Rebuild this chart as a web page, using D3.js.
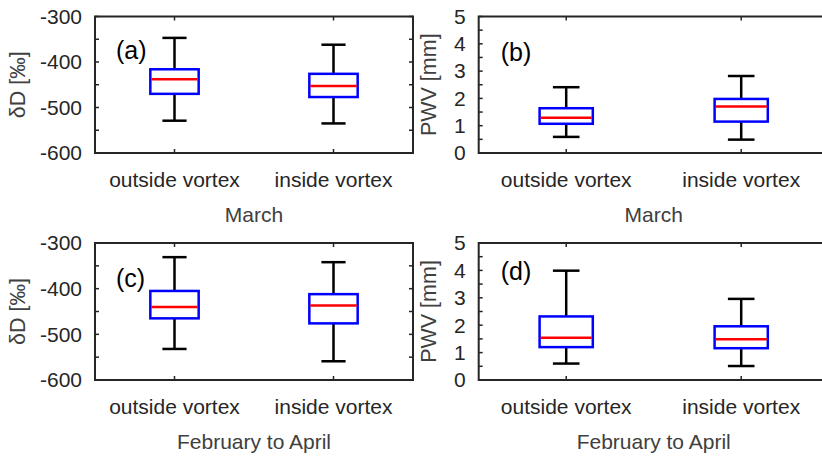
<!DOCTYPE html>
<html>
<head>
  <meta charset="utf-8">
  <title>Box plots</title>
  <style>
    body { margin: 0; background: #fff; }
    text { font-family: "Liberation Sans", Arial, sans-serif; }
  </style>
</head>
<body>
  <svg width="822" height="457"></svg>
  <script src="https://d3js.org/d3.v7.min.js"></script>
  <script>
  // categories and tick labels
  var categories = ["outside vortex", "inside vortex"];
  var ddTicks = [-600, -500, -400, -300];
  var pwvTicks = [0, 1, 2, 3, 4, 5];

  // box values: [lower whisker, q1, median, q3, upper whisker]
  var ddMarch = [[-529, -470, -438, -416, -347], [-535, -477, -453, -426, -362]];
  var pwvMarch = [[0.59, 1.07, 1.29, 1.64, 2.41], [0.49, 1.15, 1.70, 1.98, 2.82]];
  var ddFebApr = [[-532, -465, -440, -405, -331], [-559, -476, -437, -412, -342]];
  var pwvFebApr = [[0.60, 1.20, 1.54, 2.32, 3.99], [0.51, 1.16, 1.49, 1.96, 2.96]];

  var svg = d3.select("svg");

  var panels = [
    {x: 95, y: 16.5, w: 318, h: 136.5, data: ddMarch, dom: [-600, -300], ticks: ddTicks, minor: 50,
     ylab: "\u03b4D [\u2030]", xlab: "March", tag: "(a)", tagY: 50},
    {x: 478.7, y: 16.5, w: 350, h: 136.5, data: pwvMarch, dom: [0, 5], ticks: pwvTicks, minor: 0.5,
     ylab: "PWV [mm]", xlab: "March", tag: "(b)", tagY: 52},
    {x: 95, y: 243, w: 318, h: 137, data: ddFebApr, dom: [-600, -300], ticks: ddTicks, minor: 50,
     ylab: "\u03b4D [\u2030]", xlab: "February to April", tag: "(c)", tagY: 50},
    {x: 478.7, y: 243, w: 350, h: 137, data: pwvFebApr, dom: [0, 5], ticks: pwvTicks, minor: 0.5,
     ylab: "PWV [mm]", xlab: "February to April", tag: "(d)", tagY: 43}
  ];

  var axisColor = "#262626";

  panels.forEach(function(p) {
    var g = svg.append("g").attr("transform", "translate(" + p.x + "," + p.y + ")");

    var x = d3.scalePoint().domain(categories).range([0, p.w]).padding(0.5);
    var y = d3.scaleLinear().domain(p.dom).range([p.h, 0]);

    var minorTicks = d3.range(p.dom[0], p.dom[1] + p.minor / 2, p.minor);

    // frame
    g.append("rect")
      .attr("width", p.w).attr("height", p.h)
      .attr("fill", "none").attr("stroke", axisColor).attr("stroke-width", 2);

    // inward ticks on left and right
    g.selectAll(".ytl").data(minorTicks).enter().append("line")
      .attr("x1", 0).attr("x2", 4)
      .attr("y1", function(d) { return y(d); }).attr("y2", function(d) { return y(d); })
      .attr("stroke", axisColor).attr("stroke-width", 1.5);
    g.selectAll(".ytr").data(minorTicks).enter().append("line")
      .attr("x1", p.w).attr("x2", p.w - 4)
      .attr("y1", function(d) { return y(d); }).attr("y2", function(d) { return y(d); })
      .attr("stroke", axisColor).attr("stroke-width", 1.5);

    // inward ticks top and bottom
    categories.forEach(function(c) {
      g.append("line").attr("x1", x(c)).attr("x2", x(c)).attr("y1", p.h).attr("y2", p.h - 4)
        .attr("stroke", axisColor).attr("stroke-width", 1.5);
      g.append("line").attr("x1", x(c)).attr("x2", x(c)).attr("y1", 0).attr("y2", 4)
        .attr("stroke", axisColor).attr("stroke-width", 1.5);
    });

    // y tick labels
    g.selectAll(".ylab").data(p.ticks).enter().append("text")
      .attr("x", -13).attr("y", function(d) { return y(d); })
      .attr("dy", "0.35em").attr("text-anchor", "end")
      .attr("font-size", 21).attr("fill", axisColor)
      .text(function(d) { return d; });

    // x tick labels
    g.selectAll(".xlab").data(categories).enter().append("text")
      .attr("x", function(d) { return x(d); }).attr("y", p.h + 34)
      .attr("text-anchor", "middle")
      .attr("font-size", 21).attr("fill", axisColor)
      .text(function(d) { return d; });

    // x axis title
    g.append("text")
      .attr("x", p.w / 2).attr("y", p.h + 69)
      .attr("text-anchor", "middle")
      .attr("font-size", 21).attr("fill", "#404040")
      .text(p.xlab);

    // y axis title
    g.append("text")
      .attr("transform", "translate(" + (-70 + (p.x > 300 ? 27 : 0)) + "," + (p.h / 2) + ") rotate(-90)")
      .attr("text-anchor", "middle")
      .attr("font-size", 21.5).attr("fill", "#404040")
      .text(p.ylab);

    // boxes
    var half = p.w * 0.076;
    var cap = half * 0.5;
    var box = g.selectAll(".box").data(p.data).enter().append("g")
      .attr("transform", function(d, i) { return "translate(" + x(categories[i]) + ",0)"; });

    box.append("line")
      .attr("y1", function(d) { return y(d[0]); }).attr("y2", function(d) { return y(d[1]); })
      .attr("stroke", "#000").attr("stroke-width", 2.5);
    box.append("line")
      .attr("y1", function(d) { return y(d[3]); }).attr("y2", function(d) { return y(d[4]); })
      .attr("stroke", "#000").attr("stroke-width", 2.5);
    box.append("line")
      .attr("x1", -cap).attr("x2", cap)
      .attr("y1", function(d) { return y(d[0]); }).attr("y2", function(d) { return y(d[0]); })
      .attr("stroke", "#000").attr("stroke-width", 2.5);
    box.append("line")
      .attr("x1", -cap).attr("x2", cap)
      .attr("y1", function(d) { return y(d[4]); }).attr("y2", function(d) { return y(d[4]); })
      .attr("stroke", "#000").attr("stroke-width", 2.5);
    box.append("rect")
      .attr("x", -half).attr("width", half * 2)
      .attr("y", function(d) { return y(d[3]); })
      .attr("height", function(d) { return y(d[1]) - y(d[3]); })
      .attr("fill", "#fff").attr("stroke", "#0000ff").attr("stroke-width", 2.5);
    box.append("line")
      .attr("x1", -half + 1).attr("x2", half - 1)
      .attr("y1", function(d) { return y(d[2]); }).attr("y2", function(d) { return y(d[2]); })
      .attr("stroke", "#ff0000").attr("stroke-width", 2.5);

    // panel tag
    svg.append("text")
      .attr("x", p.x + (p.x > 300 ? 22 : 21)).attr("y", p.tagY + (p.y > 100 ? 228 : 0))
      .attr("dy", "0.35em")
      .attr("font-family", "Lato, 'Open Sans', sans-serif")
      .attr("font-size", 25).attr("fill", "#000")
      .text(p.tag);
  });
  </script>
</body>
</html>
